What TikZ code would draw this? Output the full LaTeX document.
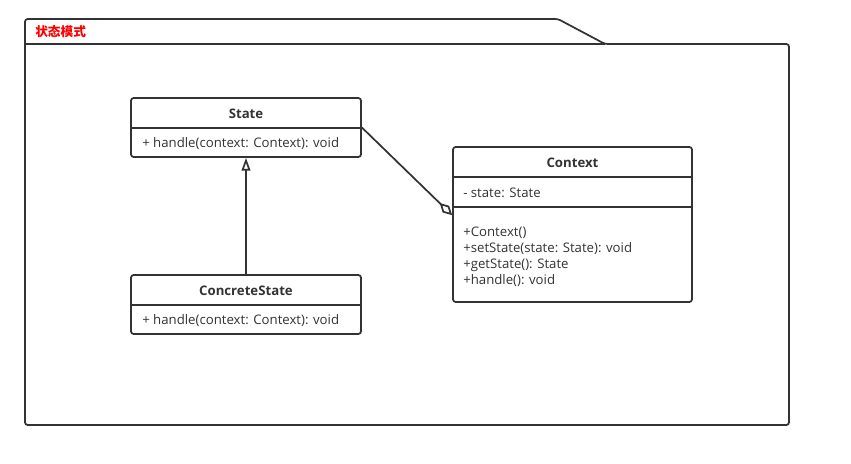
\documentclass[tikz,border=0pt]{standalone}
\usepackage{fontspec}
\setmainfont{Open Sans}
\newfontfamily\cjkfont{Noto Sans CJK SC}
\usetikzlibrary{positioning, arrows.meta}
\definecolor{umlline}{HTML}{333333}
\definecolor{tabred}{HTML}{FF0000}

\begin{document}
\begin{tikzpicture}[x=0.75pt,y=-0.75pt,font=\fontsize{9.9}{12}\selectfont,color=umlline]
    \tikzstyle{classbox} = [rectangle, rounded corners=2pt, 
minimum width=172.5pt, 
minimum height=44.25pt,
inner sep=0pt,
line width=1.3pt,
draw=umlline]

\tikzstyle{classname} = [font=\fontsize{9.9}{12}\selectfont\bfseries, 
inner sep=0pt]

\tikzstyle{member} = [anchor=west, align=left, inner sep=0pt]
\tikzstyle{divider} = [line width=1.3pt]
\tikzstyle{inherit} = [line width=1.3pt,-{Triangle[open,length=9.5pt,width=6.5pt]}]
\tikzstyle{aggregate} = [line width=1.3pt,-{Diamond[open,length=13pt,width=7pt]}]

\useasboundingbox (0,0) rectangle (851,464);

% package frame
\draw [line width=1.3pt, rounded corners=2pt] (25,44) -- (25,19) -- (558,19) -- (605,44) -- (789,44) -- (789,425) -- (25,425) -- cycle;
\draw [line width=1.3pt] (25,44) -- (605,44);
\node (pkglabel) [anchor=west, inner sep=0pt, text=tabred, font=\cjkfont\fontsize{9.5}{10}\selectfont\bfseries] at (35,32) {状态模式};

\node (state) [classbox] at (246,127.5) {};
\node (concrete) [classbox] at (246,304.5) {};
\node (context) [classbox, minimum width=179.25pt, minimum height=116.25pt] at (572.5,224.5) {};

\draw [divider] (state.west |- 0,128) -- (state.east |- 0,128);
\draw [divider] (concrete.west |- 0,305) -- (concrete.east |- 0,305);
\draw [divider] (context.west |- 0,177) -- (context.east |- 0,177);
\draw [divider] (context.west |- 0,207) -- (context.east |- 0,207);

\node (statename) [classname] at (246,114) {State};
\node (statehandle) [member] at (142,144) {+ handle(context: Context): void};
\node (concretename) [classname] at (246,291) {ConcreteState};
\node (concretehandle) [member] at (142,321) {+ handle(context: Context): void};
\node (contextname) [classname] at (572.5,163) {Context};
\node (contextattr) [member] at (463,193) {- state: State};
\node (contextops) [member] at (463,256.5) {+Context()\\+setState(state: State): void\\+getState(): State\\+handle(): void};

\draw [inherit] (concrete) -- (state);
\draw [aggregate] (state.east) -- ([yshift=7pt]context.west);

\end{tikzpicture}
\end{document}
